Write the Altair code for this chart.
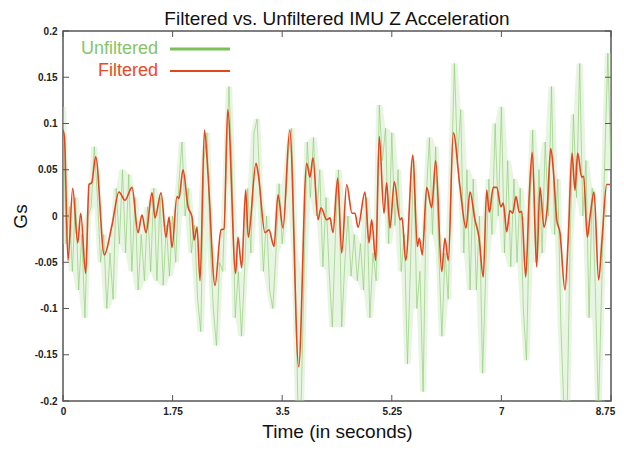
import altair as alt
import pandas as pd

# Filtered (red) series: time (s), value (Gs)
red_t = [0.0, 0.024, 0.080, 0.155, 0.235, 0.283, 0.362, 0.415, 0.458, 0.522, 0.659, 0.782,
         0.894, 0.990, 1.102, 1.198, 1.261, 1.325, 1.421, 1.469, 1.565, 1.645, 1.693, 1.740,
         1.820, 1.852, 1.916, 1.996, 2.060, 2.092, 2.140, 2.188, 2.259, 2.315, 2.427, 2.523,
         2.571, 2.630, 2.757, 2.794, 2.853, 2.917, 2.959, 3.082, 3.118, 3.225, 3.289, 3.369,
         3.433, 3.513, 3.620, 3.763, 3.891, 3.944, 3.992, 4.072, 4.120, 4.210, 4.263, 4.311,
         4.386, 4.450, 4.530, 4.614, 4.662, 4.710, 4.822, 4.886, 4.929, 4.993, 5.050, 5.125,
         5.168, 5.221, 5.290, 5.381, 5.413, 5.472, 5.588, 5.657, 5.689, 5.737, 5.807, 5.887,
         5.951, 6.047, 6.099, 6.152, 6.232, 6.339, 6.435, 6.498, 6.578, 6.642, 6.711, 6.765,
         6.807, 6.871, 6.925, 6.993, 7.030, 7.085, 7.137, 7.180, 7.233, 7.286, 7.324, 7.388,
         7.445, 7.493, 7.563, 7.616, 7.680, 7.733, 7.787, 7.829, 7.883, 7.935, 8.015, 8.068,
         8.127, 8.175, 8.218, 8.282, 8.314, 8.371, 8.415, 8.479, 8.553, 8.606, 8.681, 8.734]
red_v = [0.093, 0.085, -0.048, 0.030, -0.029, 0.003, -0.062, 0.034, 0.036, 0.064, -0.042, -0.010,
         0.026, 0.017, 0.031, -0.018, 0.001, -0.018, 0.025, -0.002, 0.025, -0.023, -0.001, -0.034,
         0.021, 0.019, 0.050, 0.010, -0.001, -0.026, -0.012, -0.070, 0.093, 0.046, -0.075, -0.015,
         -0.014, 0.115, -0.062, -0.023, -0.056, 0.028, -0.023, 0.057, 0.045, -0.018, -0.015, -0.033,
         0.023, -0.013, 0.093, -0.163, 0.057, 0.042, 0.063, -0.004, 0.009, -0.004, -0.002, -0.018,
         0.041, -0.040, 0.034, 0.003, 0.003, -0.012, 0.026, -0.029, -0.004, -0.048, 0.086, 0.003,
         0.036, -0.013, 0.037, -0.004, -0.002, -0.048, 0.066, -0.033, -0.024, -0.042, 0.031, 0.009,
         0.060, -0.060, -0.024, -0.048, 0.090, 0.031, -0.013, 0.026, -0.004, -0.023, -0.066, 0.028,
         0.004, 0.031, 0.031, 0.010, 0.014, -0.017, 0.006, 0.003, 0.021, 0.004, 0.005, -0.066,
         0.023, 0.069, -0.055, 0.031, -0.012, 0.010, 0.073, 0.050, -0.004, -0.018, -0.080, -0.023,
         0.068, 0.028, 0.068, 0.042, 0.043, -0.023, -0.001, 0.026, -0.069, -0.026, 0.034, 0.034]

# Unfiltered (green) series, sampled every 0.05 s
green_v = [0.118, -0.03, 0.01, -0.06, 0.02, -0.08, -0.02, -0.11, 0.0, 0.01,
           0.075, 0.02, -0.05, -0.02, -0.10, -0.04, -0.09, 0.03, -0.03, 0.05,
           -0.04, 0.045, -0.06, 0.02, -0.08, -0.02, -0.07, 0.01, -0.06, 0.03,
           -0.07, 0.02, -0.075, -0.01, -0.065, 0.0, -0.05, 0.035, 0.08, 0.0,
           0.03, -0.04, -0.01, -0.09, -0.125, 0.06, 0.09, -0.03, -0.10, -0.14,
           -0.05, -0.06, 0.04, 0.14, 0.05, -0.11, -0.06, -0.13, -0.06, 0.03,
           -0.04, 0.09, 0.105, 0.02, -0.06, 0.0, -0.08, -0.10, -0.04, 0.035,
           -0.03, 0.01, 0.07, 0.095, -0.04, -0.20, -0.21, -0.06, 0.08, 0.02,
           0.085, 0.0, 0.05, -0.055, 0.02, -0.06, -0.12, -0.02, 0.05, -0.12,
           -0.05, 0.0, -0.065, -0.02, -0.07, -0.03, -0.08, 0.02, -0.11, -0.04,
           -0.07, 0.12, 0.06, 0.095, -0.03, 0.09, -0.01, 0.05, -0.06, -0.02,
           -0.16, -0.05, 0.06, -0.10, -0.06, -0.19, 0.02, 0.085, -0.02, 0.075,
           -0.04, -0.13, -0.04, -0.09, 0.04, 0.165, 0.06, 0.115, -0.04, 0.05,
           -0.08, 0.04, -0.08, 0.0, -0.17, -0.06, 0.04, -0.02, 0.10, 0.0,
           0.118, -0.04, 0.06, -0.055, 0.04, -0.05, 0.03, -0.10, -0.156, 0.0,
           0.093, -0.05, 0.05, -0.04, 0.08, 0.0, 0.14, -0.02, 0.04, -0.12,
           -0.21, -0.21, -0.02, 0.11, 0.02, 0.165, 0.0, 0.06, -0.11, 0.03,
           -0.08, -0.21, -0.08, 0.06, 0.176, 0.05]
green_t = [round(i * 0.05, 2) for i in range(len(green_v))]

x_ticks = [0, 1.75, 3.5, 5.25, 7, 8.75]
y_ticks = [-0.2, -0.15, -0.1, -0.05, 0, 0.05, 0.1, 0.15, 0.2]
legend_labels = ["Unfiltered", "Filtered"]

W, H = 548, 370
GREEN = "#8dcc72"
RED = "#e2461c"

red_df = pd.DataFrame({"t": red_t, "v": red_v})
green_df = pd.DataFrame({"t": green_t, "v": green_v})
xt_df = pd.DataFrame({"t": x_ticks})
yt_df = pd.DataFrame({"v": y_ticks})

xscale = alt.Scale(domain=[0, 8.75], nice=False, zero=False)
yscale = alt.Scale(domain=[-0.2, 0.2], nice=False, zero=False)

x_axis = alt.Axis(values=x_ticks, labelExpr="'' + datum.value", title="Time (in seconds)",
                  grid=False, domain=False, ticks=False, tickSize=0, labelPadding=5,
                  labelFontSize=10, labelFontWeight="bold", labelColor="#222",
                  labelOffset={"expr": "datum.value == 8.75 ? -6 : 0"},
                  titleFontSize=19, titleFontWeight="normal", titleColor="#111", titlePadding=6,
                  labelFlush=False)
y_axis = alt.Axis(values=y_ticks, labelExpr="'' + datum.value", title="Gs",
                  grid=False, domain=False, ticks=False, tickSize=0, labelPadding=6,
                  labelFontSize=10, labelFontWeight="bold", labelColor="#222",
                  titleFontSize=19, titleFontWeight="normal", titleColor="#111", titlePadding=4,
                  labelFlush=False)

green_band = alt.Chart(green_df).transform_window(
    lo="min(v)", hi="max(v)", frame=[-1, 1], sort=[alt.SortField("t")]
).mark_area(color="#bfe3ae", opacity=0.35, clip=True).encode(
    x=alt.X("t:Q", scale=xscale, axis=x_axis),
    y=alt.Y("lo:Q", scale=yscale, axis=y_axis),
    y2="hi:Q",
)

green_line = alt.Chart(green_df).mark_line(
    color=GREEN, strokeWidth=1, opacity=0.65, clip=True
).encode(
    x=alt.X("t:Q", scale=xscale),
    y=alt.Y("v:Q", scale=yscale),
)

red_line = alt.Chart(red_df).mark_line(
    color=RED, strokeWidth=1.6, interpolate="monotone", clip=True
).encode(
    x=alt.X("t:Q", scale=xscale),
    y=alt.Y("v:Q", scale=yscale),
)

tick_style = dict(color="#555555", strokeWidth=1)
xt_bottom = alt.Chart(xt_df).mark_rule(**tick_style).encode(
    x=alt.X("t:Q", scale=xscale), y=alt.value(H), y2=alt.value(H - 6))
xt_top = alt.Chart(xt_df).mark_rule(**tick_style).encode(
    x=alt.X("t:Q", scale=xscale), y=alt.value(0), y2=alt.value(6))
yt_left = alt.Chart(yt_df).mark_rule(**tick_style).encode(
    y=alt.Y("v:Q", scale=yscale), x=alt.value(0), x2=alt.value(6))
yt_right = alt.Chart(yt_df).mark_rule(**tick_style).encode(
    y=alt.Y("v:Q", scale=yscale), x=alt.value(W), x2=alt.value(W - 6))

leg_green_text = alt.Chart(pd.DataFrame({"l": [legend_labels[0]]})).mark_text(
    align="right", baseline="middle", fontSize=18, font="Liberation Sans", color="#86c46a"
).encode(text="l:N", x=alt.value(95), y=alt.value(18))
leg_red_text = alt.Chart(pd.DataFrame({"l": [legend_labels[1]]})).mark_text(
    align="right", baseline="middle", fontSize=18, font="Liberation Sans", color="#e8492a"
).encode(text="l:N", x=alt.value(95), y=alt.value(40))
leg_green_line = alt.Chart(pd.DataFrame({"l": [legend_labels[0]]})).mark_rule(
    color="#7cc05c", strokeWidth=3
).encode(x=alt.value(107), x2=alt.value(167), y=alt.value(18))
leg_red_line = alt.Chart(pd.DataFrame({"l": [legend_labels[1]]})).mark_rule(
    color=RED, strokeWidth=2
).encode(x=alt.value(107), x2=alt.value(167), y=alt.value(40))

chart = alt.layer(
    green_band, green_line, red_line, xt_bottom, xt_top, yt_left, yt_right,
    leg_green_text, leg_red_text, leg_green_line, leg_red_line
).properties(
    width=W, height=H,
    title=alt.TitleParams("Filtered vs. Unfiltered IMU Z Acceleration", fontSize=19,
                          fontWeight="normal", font="Liberation Sans", color="#111", offset=-3),
    autosize=alt.AutoSizeParams(type="none"),
    padding={"left": 55, "top": 23, "right": 5, "bottom": 44},
).configure_view(
    stroke="#555555", strokeWidth=1.5
).configure_axis(
    labelFont="Liberation Sans", titleFont="Liberation Sans"
)

chart.save("out.html", embed_options={"renderer": "svg", "actions": False})
